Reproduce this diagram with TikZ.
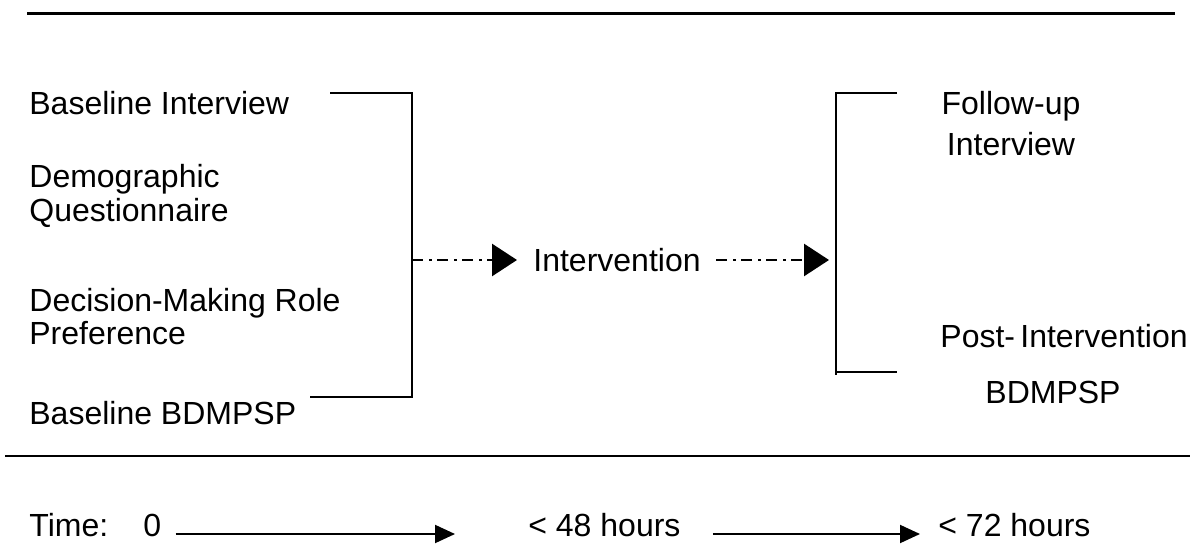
\documentclass[tikz,border=0pt]{standalone}
\usepackage{fontspec}
\setmainfont{Liberation Sans}
\usetikzlibrary{arrows.meta}

\begin{document}
\begin{tikzpicture}[x=0.5pt, y=-0.5pt,
    main/.style = {inner sep=0pt, font=\fontsize{16}{17}\selectfont, anchor=base west, align=left},
    right/.style = {inner sep=0pt, font=\fontsize{16}{20.5}\selectfont, anchor=base, align=center},
    bracket/.style = {line width=0.85pt},
    dashdot/.style = {line width=1.4pt, dash pattern=on 5.5pt off 3pt on 1.5pt off 2.5pt, -{Triangle[length=12.5pt, width=16pt]}},
    timeline/.style = {line width=1pt, -{Triangle[length=10pt, width=9pt]}}]
        \useasboundingbox (0,0) rectangle (1200,545);

        % rules
        \draw[line width=1.5pt] (27,14) -- (1175,14);
        \draw[line width=1pt] (5,456) -- (1190,456);

        % baseline measures (base = last line)
        \node[main] (1) at (29,115) {Baseline Interview};
        \node[main] (2) at (29,222) {Demographic\\Questionnaire};
        \node[main] (3) at (29,345) {Decision-Making Role\\Preference};
        \node[main] (4) at (29,424) {Baseline BDMPSP};

        % follow-up measures
        \node[right] (5) at (1011,156) {Follow-up\\Interview};
        \node[main] (6) at (940,348) {Post-\,Intervention};
        \node[right] (7) at (1053,403) {BDMPSP};

        \node[main] (iv) at (533,272) {Intervention};

        % brackets
        \draw[bracket] (330,93) -- (412,93) -- (412,397) -- (310,397);
        \draw[bracket] (897,93) -- (836,93) -- (836,375) (836,372) -- (897,372);
        \coordinate (lb) at (412,260);
        \coordinate (rb) at (836,260);

        \draw[dashdot, shorten >=8pt] (lb) -- (iv.west |- lb);
        \draw[dashdot, shorten <=7.5pt, shorten >=3.5pt] (iv.east |- rb) -- (rb);

        % time line
        \node[main] (8) at (29,536) {Time:};
        \node[main] (9) at (143,536) {0};
        \node[main] (10) at (528,536) {< 48 hours};
        \node[main] (11) at (938,536) {< 72 hours};

        \draw[timeline, shorten <=7pt, shorten >=36.5pt] ([yshift=1pt]9.base east) -- ([yshift=1pt]10.base west);
        \draw[timeline, shorten <=16pt, shorten >=9pt] ([yshift=1pt]10.base east) -- ([yshift=1pt]11.base west);

    \end{tikzpicture}
\end{document}
